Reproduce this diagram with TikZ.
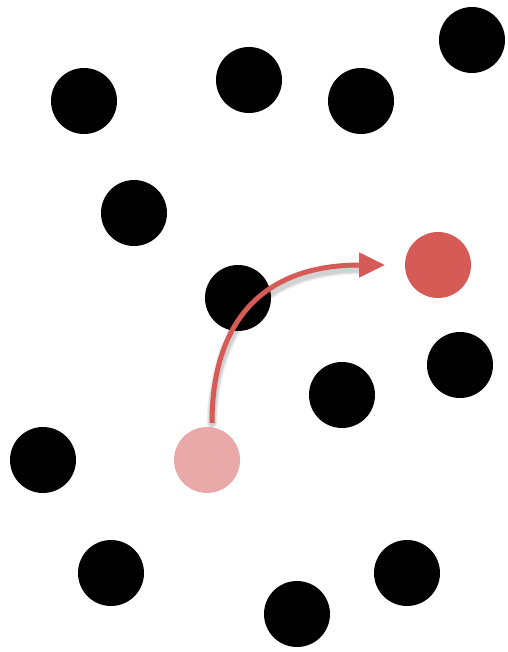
\documentclass[tikz,border=0pt]{standalone}
\usetikzlibrary{arrows.meta}
\definecolor{darkred}{HTML}{D65A56}
\definecolor{lightred}{HTML}{E8A9A8}
\begin{document}
\begin{tikzpicture}[x=1pt,y=-1pt,
  dot/.style={circle,fill=black,minimum size=66pt,inner sep=0pt},
  arr/.style={darkred,line width=5pt,-{Triangle[length=26pt,width=24pt]}}]
\useasboundingbox (0,0) rectangle (507,652);
\node[dot] (c1) at (84,101) {};
\node[dot] (c2) at (249,80) {};
\node[dot] (c3) at (361,101) {};
\node[dot] (c4) at (472,40) {};
\node[dot] (c5) at (134,213) {};
\node[dot] (c6) at (238,298) {};
\node[dot,fill=darkred] (c7) at (438,265) {};
\node[dot] (c8) at (460,365) {};
\node[dot] (c9) at (342,395) {};
\node[dot] (c10) at (43,460) {};
\node[dot,fill=lightred] (c11) at (207,460) {};
\node[dot] (c12) at (111,573) {};
\node[dot] (c13) at (407,573) {};
\node[dot] (c14) at (297,614) {};
\coordinate (s) at (212,423);
\coordinate (e) at (385,265);
\foreach \w/\o in {11/0.05,9/0.06,7/0.08} {
  \draw[black,opacity=\o,line width=\w pt,line cap=round,shift={(2pt,-4pt)}]
    (s) .. controls (212,330) and (255,265) .. (360,265);
}
\draw[arr] (s) .. controls (212,330) and (255,265) .. (e);
\end{tikzpicture}
\end{document}
